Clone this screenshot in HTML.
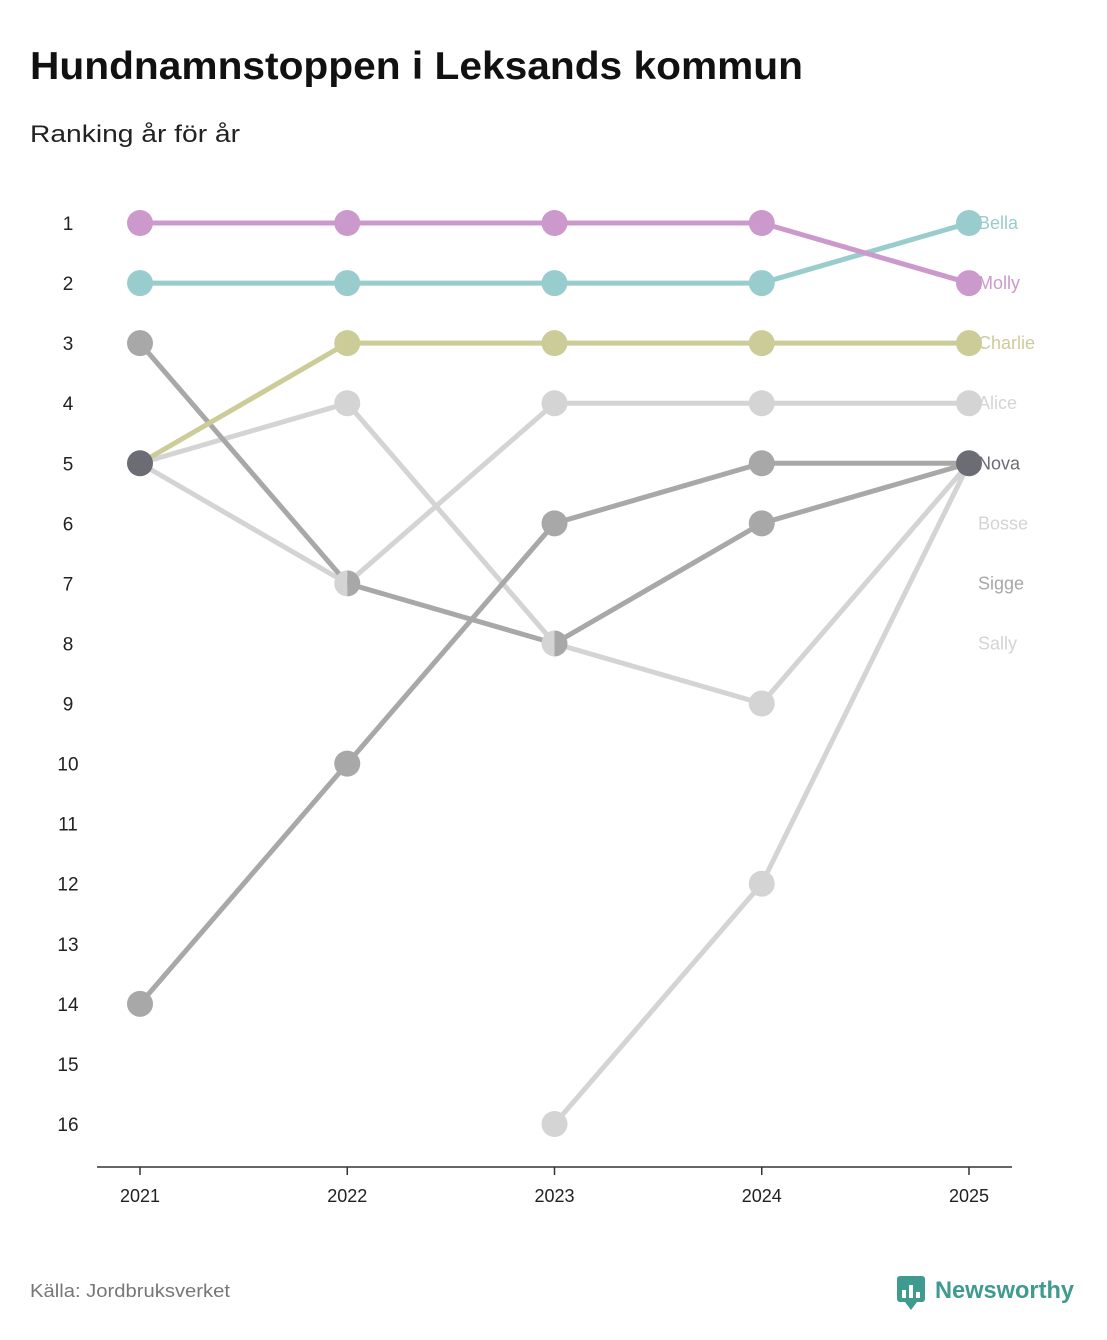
<!DOCTYPE html>
<html><head><meta charset="utf-8"><style>
body{margin:0;background:#fff;font-family:"Liberation Sans",sans-serif;}
svg{display:block}
</style></head><body>
<svg id="chart" width="1107" height="1340">
<text x="30" y="79" font-size="39" font-weight="bold" fill="#111" textLength="773" lengthAdjust="spacingAndGlyphs">Hundnamnstoppen i Leksands kommun</text>
<text x="30" y="142" font-size="24" fill="#222" textLength="210" lengthAdjust="spacingAndGlyphs">Ranking år för år</text>
<text x="30" y="1297" font-size="18" fill="#777" textLength="200" lengthAdjust="spacingAndGlyphs">Källa: Jordbruksverket</text>
<g>
<rect x="897" y="1276" width="28" height="26" rx="3" fill="#3f9a8f"/>
<path d="M905 1302 L911 1310 L917 1302 Z" fill="#3f9a8f"/>
<rect x="902" y="1290" width="4" height="8" fill="#fff"/><rect x="909" y="1285" width="4" height="13" fill="#fff"/><rect x="916" y="1292" width="4" height="6" fill="#fff"/>
<text x="935" y="1298" font-size="24" font-weight="bold" fill="#3f9a8f" textLength="139" lengthAdjust="spacingAndGlyphs">Newsworthy</text>
</g>
<g id="plot"></g>
</svg>
<script>
const years = ["2021","2022","2023","2024","2025"];
const names = ["Molly","Bella","Charlie","Alice","Bosse","Sigge","Nova","Sally"];
const molly = [1,1,1,1,2];
const bella = [2,2,2,2,1];
const charlie = [5,3,3,3,3];
const alice = [5,7,4,4,4];
const bosse = [5,4,8,9,5];
const sigge = [3,7,8,6,5];
const nova = [14,10,6,5,5];
const sally = [null,null,16,12,5];
const rankTicks = [1,2,3,4,5,6,7,8,9,10,11,12,13,14,15,16];
const colors = ["#cc99cc","#99cccc","#cccc99","#d4d4d4","#d4d4d4","#a8a8a8","#a8a8a8","#d4d4d4"];
const labelColors = ["#cc99cc","#99cccc","#cccc99","#d4d4d4","#d4d4d4","#a8a8a8","#6c6c74","#d4d4d4"];
const series = [molly,bella,charlie,alice,bosse,sigge,nova,sally];

const NS="http://www.w3.org/2000/svg";
const plot=document.getElementById('plot');
const x0=140,x1=969,yTop=223,yBot=1124;
const xS=i=>x0+i*(x1-x0)/(years.length-1);
const yS=r=>yTop+(r-1)*(yBot-yTop)/15;
function mk(t,a){const e=document.createElementNS(NS,t);for(const k in a)e.setAttribute(k,a[k]);plot.appendChild(e);return e;}

const ax=mk('line',{x1:97,x2:1012,y1:1167,y2:1167,stroke:'#333','stroke-width':1.5});


years.forEach((y,i)=>{
  const t=mk('line',{x1:xS(i),x2:xS(i),y1:1167,y2:1175,stroke:'#333','stroke-width':1.5});
  
  
  const l=mk('text',{x:xS(i),y:1202,'font-size':18,fill:'#222','text-anchor':'middle'});l.textContent=y;
  
  
});
rankTicks.forEach(r=>{
  const l=mk('text',{x:68,y:yS(r)+7,'font-size':19,fill:'#222','text-anchor':'middle'});l.textContent=r;
  
  
});

const order=[7,4,3,6,5,2,1,0];
order.forEach(s=>{
  const d=series[s];let pts=[];
  d.forEach((v,i)=>{if(v!=null)pts.push(xS(i)+','+yS(v));});
  const p=mk('polyline',{points:pts.join(' '),fill:'none',stroke:colors[s],'stroke-width':5});
  
  
});
const pointMap={};
order.forEach(s=>series[s].forEach((v,i)=>{if(v==null)return;const k=i+'_'+v;(pointMap[k]=pointMap[k]||[]).push(s);}));
for(const k in pointMap){
  const [i,v]=k.split('_').map(Number);const ss=pointMap[k];const cx=xS(i),cy=yS(v),r=13;
  if(ss.length>=3){
    const c=mk('circle',{cx,cy,r,fill:'#6c6c74'});
    
    
  } else if(ss.length==2){
    const a=mk('path',{d:`M${cx} ${cy-r} A${r} ${r} 0 0 0 ${cx} ${cy+r} Z`,fill:colors[ss[0]]});
    
    
    const b=mk('path',{d:`M${cx} ${cy-r} A${r} ${r} 0 0 1 ${cx} ${cy+r} Z`,fill:colors[ss[1]]});
    
    
  } else {
    const c=mk('circle',{cx,cy,r,fill:colors[ss[0]]});
    
    
  }
}
const used={};
const labOrder=[1,0,2,3,6,4,5,7];
labOrder.forEach(s=>{
  let r=series[s][years.length-1];while(used[r])r++;used[r]=1;
  const l=mk('text',{x:978,y:yS(r)+6,'font-size':18,fill:labelColors[s]});l.textContent=names[s];
  
  
});
</script>
</body></html>
